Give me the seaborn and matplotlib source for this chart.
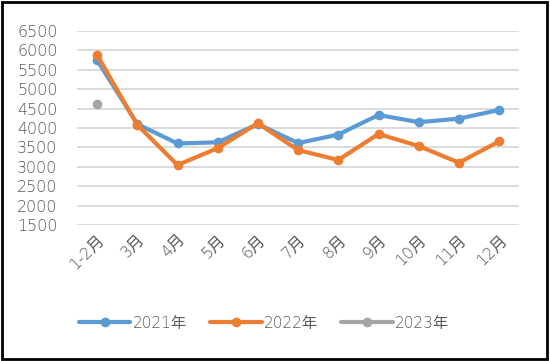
import matplotlib
matplotlib.use('Agg')
import matplotlib.pyplot as plt
import seaborn as sns
import pandas as pd
from matplotlib.patches import Rectangle

months = ['1-2月', '3月', '4月', '5月', '6月', '7月', '8月', '9月', '10月', '11月', '12月']
y2021 = [5750, 4100, 3600, 3630, 4100, 3610, 3830, 4335, 4150, 4240, 4465]
y2022 = [5880, 4080, 3045, 3480, 4120, 3430, 3175, 3845, 3535, 3105, 3655]
y2023 = [4610]

sns.set_style('white')
plt.rcParams['font.family'] = ['DejaVu Sans', 'Noto Sans CJK SC']
plt.rcParams['font.weight'] = 'light'

fig = plt.figure(figsize=(5.5, 3.61), dpi=100)
ax = fig.add_axes([0.14, 0.377, 0.804, 0.537])

colors = {'2021年': '#5B9BD5', '2022年': '#ED7D31', '2023年': '#A5A5A5'}
series = [('2021年', months, y2021), ('2022年', months, y2022), ('2023年', months[:1], y2023)]

for name, xs, ys in series:
    df = pd.DataFrame({'月份': xs, '数量': ys})
    sns.lineplot(data=df, x='月份', y='数量', ax=ax, color=colors[name], marker='o',
                 markersize=9, markeredgewidth=0, linewidth=4, sort=False,
                 label=name, clip_on=False)

ax.set_ylim(1500, 6500)
ax.set_xlim(-0.5, len(months) - 0.5)
ax.set_yticks(range(1500, 6501, 500))
ax.yaxis.grid(True, color='#D9D9D9', linewidth=1.3)
ax.set_axisbelow(True)
for s in ax.spines.values():
    s.set_visible(False)
ax.set_xlabel('')
ax.set_ylabel('')
ax.tick_params(axis='y', labelsize=11.5, labelcolor='#595959', length=0, pad=14)
ax.tick_params(axis='x', labelsize=11.5, labelcolor='#595959', length=0, pad=5)
plt.setp(ax.get_xticklabels(), rotation=45, ha='right', rotation_mode='anchor')

ax.get_legend().remove()
handles, labels = ax.get_legend_handles_labels()
for h in handles:
    h.set_linewidth(3)
    h.set_markersize(7)
fig.legend(handles, labels, loc='center', bbox_to_anchor=(0.48, 0.105), ncol=3,
           frameon=False, fontsize=11, handlelength=3.4, columnspacing=1.5,
           handletextpad=0.15, labelcolor='#595959')

fig.patches.append(Rectangle((0.004, 0.006), 0.99, 0.988, transform=fig.transFigure,
                             fill=False, edgecolor='black', linewidth=2))

fig.savefig('out.png', dpi=100)
